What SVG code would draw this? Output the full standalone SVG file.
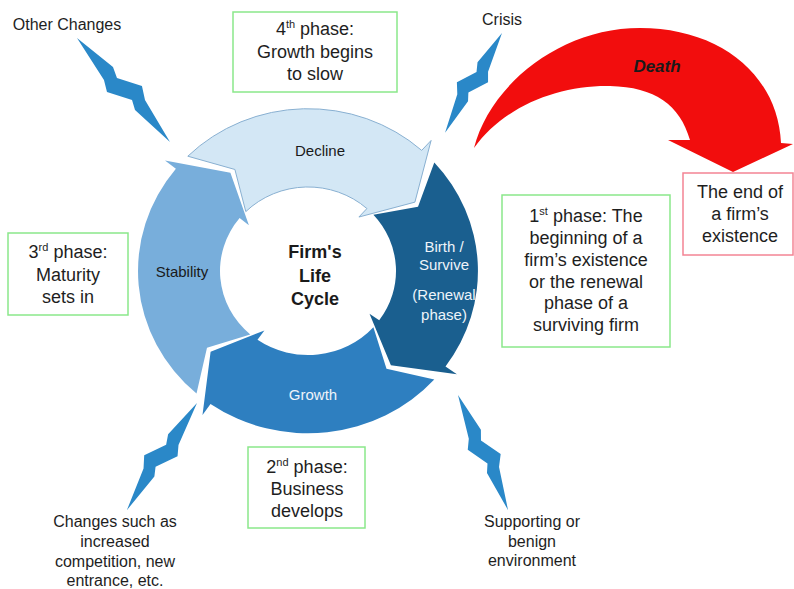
<svg xmlns="http://www.w3.org/2000/svg" width="794" height="589" viewBox="0 0 794 589">
<defs>
<style>
text{font-family:"Liberation Sans",Arial,sans-serif;text-anchor:middle}
.ext{font-size:16px;fill:#1e1e1e}
.box{font-size:18px;fill:#1e1e1e}
.ring{font-size:15px}
.dark{fill:#1a1a1a}
.light{fill:#eef4fa}
.gbox{fill:#ffffff;stroke:#8ae88a;stroke-width:1.5}
.rbox{fill:#ffffff;stroke:#f38494;stroke-width:1.5}
.bolt{fill:#2a88c8}
</style>
<path id="boltshape" d="M0,0 L45.6,-7.5 L56.5,-3.1 L79.1,-16.4 L91.5,-9.4 L139.5,0 L92.4,4.8 L82.9,0.3 L60.2,13.6 L49.3,7.9 Z"/>
</defs>
<rect width="794" height="589" fill="#ffffff"/>

<g id="connectors">
<use href="#boltshape" class="bolt" transform="translate(77,38) rotate(48.2)"/>
<use href="#boltshape" class="bolt" transform="translate(502,33) rotate(119.7) scale(0.824,-0.9)"/>
<use href="#boltshape" class="bolt" transform="translate(197,403) rotate(123.2) scale(0.918,-0.95)"/>
<use href="#boltshape" class="bolt" transform="translate(458,395) rotate(66.5) scale(0.9,0.95)"/>
<path id="death-arrow" fill="#f20d0d" d="M474,148 C490,85 560,28 640,28 C720,28 778,75 781,143 L793,144 L733,172 L668,140 L690,140 C680,105 655,87 610,86 C560,85 505,105 474,148 Z"/>
<text x="657" y="72" style="font-size:17px;font-weight:bold;font-style:italic;fill:#1a1a1a">Death</text>
</g>

<g id="decline">
<path transform="translate(308,271) scale(1,0.955)" fill="#d3e7f5" stroke="#86aed0" stroke-width="1" d="M-120.2,-120.2 A170,170 0 0 1 113.7,-126.3 L123.1,-136.7 L106.9,-72.1 L50.9,-56.5 L58.9,-65.4 A88,88 0 0 0 -62.2,-62.2 L-73.1,-106.3 Z"/>
<text class="ring dark" x="320" y="156">Decline</text>
</g>

<g id="birth">
<path transform="translate(308,271) scale(1,0.955)" fill="#1a5f8f" d="M126.3,-113.7 A170,170 0 0 1 137.5,99.9 L148.9,108.2 L82.9,98.8 L61.5,44.7 L71.2,51.7 A88,88 0 0 0 65.4,-58.9 L110.0,-67.4 Z"/>
<text class="ring light" x="444" y="252">Birth /</text>
<text class="ring light" x="444" y="270">Survive</text>
<text class="ring light" x="444" y="300">(Renewal</text>
<text class="ring light" x="444" y="320">phase)</text>
</g>

<g id="growth">
<path transform="translate(308,271) scale(1,0.955)" fill="#2e7fc0" d="M126.3,113.7 A170,170 0 0 1 -97.5,139.3 L-105.5,150.7 L-97.4,84.6 L-43.6,62.3 L-50.5,72.1 A88,88 0 0 0 65.4,58.9 L78.5,102.3 Z"/>
<text class="ring light" x="313" y="400">Growth</text>
</g>

<g id="stability">
<path transform="translate(308,271) scale(1,0.955)" fill="#78aedb" d="M-111.5,128.3 A170,170 0 0 1 -132.1,-107.0 L-143.0,-115.8 L-77.6,-103.0 L-59.1,-47.8 L-68.4,-55.4 A88,88 0 0 0 -57.7,66.4 L-101.0,80.3 Z"/>
<text class="ring dark" x="182" y="277">Stability</text>
</g>

<g id="center">
<text x="315" y="258" style="font-size:18px;font-weight:bold;fill:#1a1a1a">Firm's</text>
<text x="315" y="282" style="font-size:18px;font-weight:bold;fill:#1a1a1a">Life</text>
<text x="315" y="305" style="font-size:18px;font-weight:bold;fill:#1a1a1a">Cycle</text>
</g>

<g id="phase4">
<rect class="gbox" x="233" y="12" width="164" height="80"/>
<text class="box" x="315" y="35">4<tspan font-size="11" dy="-7">th</tspan><tspan dy="7"> phase:</tspan></text>
<text class="box" x="315" y="58">Growth begins</text>
<text class="box" x="315" y="80">to slow</text>
</g>

<g id="phase3">
<rect class="gbox" x="8" y="233" width="120" height="82"/>
<text class="box" x="68" y="258">3<tspan font-size="11" dy="-7">rd</tspan><tspan dy="7"> phase:</tspan></text>
<text class="box" x="68" y="281">Maturity</text>
<text class="box" x="68" y="303">sets in</text>
</g>

<g id="phase2">
<rect class="gbox" x="248" y="447" width="117" height="81"/>
<text class="box" x="307" y="473">2<tspan font-size="11" dy="-7">nd</tspan><tspan dy="7"> phase:</tspan></text>
<text class="box" x="307" y="495">Business</text>
<text class="box" x="307" y="517">develops</text>
</g>

<g id="phase1">
<rect class="gbox" x="502" y="195" width="168" height="152"/>
<text class="box" x="586" y="222">1<tspan font-size="11" dy="-7">st</tspan><tspan dy="7"> phase: The</tspan></text>
<text class="box" x="586" y="244">beginning of a</text>
<text class="box" x="586" y="266">firm’s existence</text>
<text class="box" x="586" y="288">or the renewal</text>
<text class="box" x="586" y="309">phase of a</text>
<text class="box" x="586" y="331">surviving firm</text>
</g>

<g id="end">
<rect class="rbox" x="683" y="173" width="110" height="82"/>
<text class="box" x="740" y="198">The end of</text>
<text class="box" x="740" y="220">a firm’s</text>
<text class="box" x="740" y="242">existence</text>
</g>

<g id="labels">
<text class="ext" x="67" y="30">Other Changes</text>
<text class="ext" x="502" y="25">Crisis</text>
<text class="ext" x="115" y="527">Changes such as</text>
<text class="ext" x="115" y="547">increased</text>
<text class="ext" x="115" y="567">competition, new</text>
<text class="ext" x="115" y="586">entrance, etc.</text>
<text class="ext" x="532" y="527">Supporting or</text>
<text class="ext" x="532" y="547">benign</text>
<text class="ext" x="532" y="566">environment</text>
</g>
</svg>
